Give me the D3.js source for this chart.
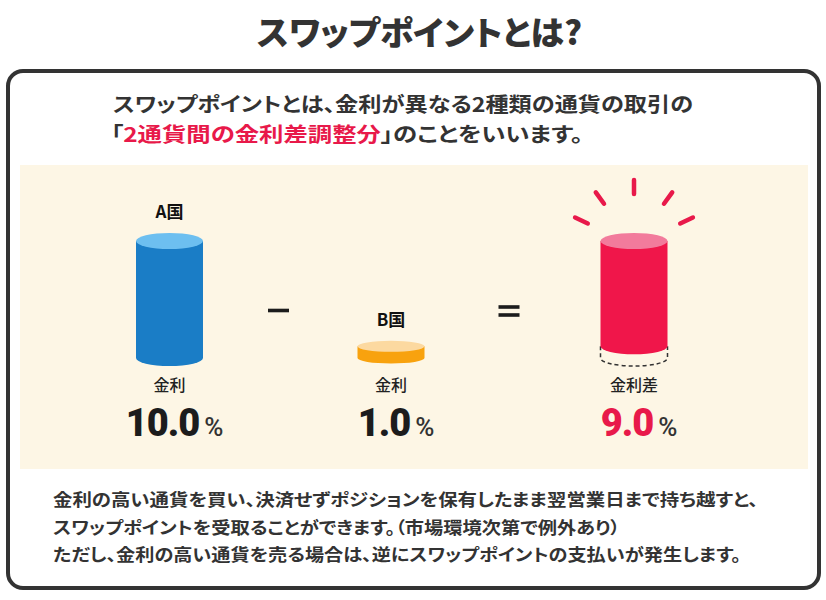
<!DOCTYPE html>
<html>
<head>
<meta charset="utf-8">
<script src="https://cdn.jsdelivr.net/npm/d3@7"></script>
<style>
	body { margin: 0; background: #fff; }
	text { font-family: "Noto Sans CJK JP", sans-serif; font-feature-settings: "palt"; }
	.num { font-family: Roboto, "Liberation Sans", sans-serif; font-feature-settings: normal; }
</style>
</head>
<body>
<svg id="chart" width="826" height="600"></svg>
<script>
// data
const topLabels = ["A国", "B国", ""];
const rateLabels = ["金利", "金利", "金利差"];
const rates = [10.0, 1.0, 9.0];
const bases = [0, 0, 1.0];
const operators = ["minus", "equals"];
const rayAngles = [-155, -126, -90, -54, -25];

const titleText = "スワップポイントとは?";
const leadLine1 = "スワップポイントとは、金利が異なる2種類の通貨の取引の";
const leadLine2 = ["「", "2通貨間の金利差調整分", "」のことをいいます。"];
const noteLines = [
	"金利の高い通貨を買い、決済せずポジションを保有したまま翌営業日まで持ち越すと、",
	"スワップポイントを受取ることができます。（市場環境次第で例外あり）",
	"ただし、金利の高い通貨を売る場合は、逆にスワップポイントの支払いが発生します。"
];

const bodyColors = ["#1a7dc6", "#f8a20e", "#f0164a"];
const topColors = ["#6dbff0", "#fcd9a0", "#f27b9c"];
const red = "#e8194a";
const ink = "#333";

const svg = d3.select("#chart");

// title
svg.append("text")
	.attr("x", 257)
	.attr("y", 45)
	.attr("textLength", 325)
	.attr("lengthAdjust", "spacingAndGlyphs")
	.style("font-size", "33px")
	.style("font-weight", 900)
	.style("fill", ink)
	.text(titleText);

// frame
svg.append("rect")
	.attr("x", 8)
	.attr("y", 71)
	.attr("width", 811)
	.attr("height", 517)
	.attr("rx", 15)
	.attr("fill", "#fff")
	.attr("stroke", ink)
	.attr("stroke-width", 4);

svg.append("text")
	.attr("x", 113)
	.attr("y", 112)
	.attr("textLength", 580)
	.attr("lengthAdjust", "spacingAndGlyphs")
	.style("font-size", "20px")
	.style("font-weight", 700)
	.style("fill", ink)
	.text(leadLine1);

svg.append("text")
	.attr("x", 111)
	.attr("y", 142)
	.attr("textLength", 472)
	.attr("lengthAdjust", "spacingAndGlyphs")
	.style("font-size", "20px")
	.style("font-weight", 700)
	.style("fill", ink)
	.selectAll("tspan")
	.data(leadLine2)
	.join("tspan")
	.style("fill", (d, i) => i == 1 ? red : ink)
	.text(d => d);

// beige panel
svg.append("rect")
	.attr("x", 20)
	.attr("y", 165)
	.attr("width", 788)
	.attr("height", 304)
	.attr("fill", "#fdf6e5");

// scales
const slots = ["a", "op0", "b", "op1", "diff"];
const x = d3.scaleOrdinal()
	.domain(slots)
	.range([169.5, 278.5, 391, 509, 634]);
const cylSlot = ["a", "b", "diff"];

const y = d3.scaleLinear()
	.domain([0, 10])
	.range([358, 241]);

const rx = 33.5;

function cylPath(cx, yTop, yBot, ry) {
	return `M${cx - rx},${yTop} L${cx - rx},${yBot} A${rx},${ry} 0 0 0 ${cx + rx},${yBot} L${cx + rx},${yTop} Z`;
}

let cyl = svg.selectAll(".cyl")
	.data(rates.map((r, i) => ({ rate: r, base: bases[i], i: i })))
	.join("g")
	.attr("class", "cyl");

cyl.each(function(d) {
	let g = d3.select(this);
	let cx = x(cylSlot[d.i]);
	let yTop = y(d.base + d.rate);
	let yBot = y(d.base);
	let ry = (yBot - yTop) < 30 ? 5.5 : 8;

	// dashed outline for the part below the difference
	if (d.base > 0) {
		g.append("path")
			.attr("d", `M${cx - rx},${yBot} L${cx - rx},${y(0)} A${rx},${ry} 0 0 0 ${cx + rx},${y(0)} L${cx + rx},${yBot}`)
			.attr("fill", "none")
			.attr("stroke", ink)
			.attr("stroke-width", 1.5)
			.attr("stroke-dasharray", "4,3");
	}

	g.append("path")
		.attr("d", cylPath(cx, yTop, yBot, ry))
		.attr("fill", bodyColors[d.i]);

	g.append("ellipse")
		.attr("cx", cx)
		.attr("cy", yTop)
		.attr("rx", rx)
		.attr("ry", ry)
		.attr("fill", topColors[d.i]);

	if (topLabels[d.i]) {
		g.append("text")
			.attr("x", cx)
			.attr("y", yTop - ry - 15)
			.style("text-anchor", "middle")
			.style("font-size", "17px")
			.style("font-weight", 700)
			.style("fill", "#111")
			.text(topLabels[d.i]);
	}

	g.append("text")
		.attr("x", cx)
		.attr("y", 391)
		.style("text-anchor", "middle")
		.style("font-size", "16px")
		.style("font-weight", 500)
		.style("fill", "#222")
		.text(rateLabels[d.i]);

	let num = g.append("text")
		.attr("class", "num")
		.attr("y", 436)
		.style("font-size", "38px")
		.style("font-weight", 900)
		.style("letter-spacing", "-1px")
		.style("fill", d.i == 2 ? red : "#1c1c1c")
		.text(d.rate.toFixed(1));

	let pct = g.append("text")
		.attr("class", "num")
		.attr("y", 436)
		.style("font-size", "26px")
		.style("font-weight", 500)
		.style("fill", ink)
		.text("%");

	let nw = num.node().getComputedTextLength();
	let pw = pct.node().getComputedTextLength();
	let start = cx + 5 - (nw + 5 + pw) / 2;
	num.attr("x", start);
	pct.attr("x", start + nw + 5);
});

// operators
svg.selectAll(".op")
	.data(operators)
	.join("g")
	.attr("class", "op")
	.each(function(d, i) {
		let cx = x("op" + i);
		let bars = d == "minus" ? [310.5] : [307, 315];
		d3.select(this).selectAll("rect")
			.data(bars)
			.join("rect")
			.attr("x", cx - 10.5)
			.attr("y", b => b - 1.8)
			.attr("width", 21)
			.attr("height", 3.6)
			.attr("fill", "#1c1c1c");
	});

// rays above the difference
let rc = x("diff");
let rcy = 245;
svg.selectAll(".ray")
	.data(rayAngles)
	.join("line")
	.attr("class", "ray")
	.attr("x1", a => rc + 51 * Math.cos(a * Math.PI / 180))
	.attr("y1", a => rcy + 51 * Math.sin(a * Math.PI / 180))
	.attr("x2", a => rc + 65 * Math.cos(a * Math.PI / 180))
	.attr("y2", a => rcy + 65 * Math.sin(a * Math.PI / 180))
	.attr("stroke", red)
	.attr("stroke-width", 4.5)
	.attr("stroke-linecap", "round");

// notes
const noteLengths = [705, 567, 688];
svg.selectAll(".note")
	.data(noteLines)
	.join("text")
	.attr("class", "note")
	.attr("x", 53)
	.attr("y", (d, i) => 506 + i * 27.5)
	.attr("textLength", (d, i) => noteLengths[i])
	.attr("lengthAdjust", "spacingAndGlyphs")
	.style("font-size", "17px")
	.style("font-weight", 700)
	.style("fill", ink)
	.text(d => d);
</script>
</body>
</html>
